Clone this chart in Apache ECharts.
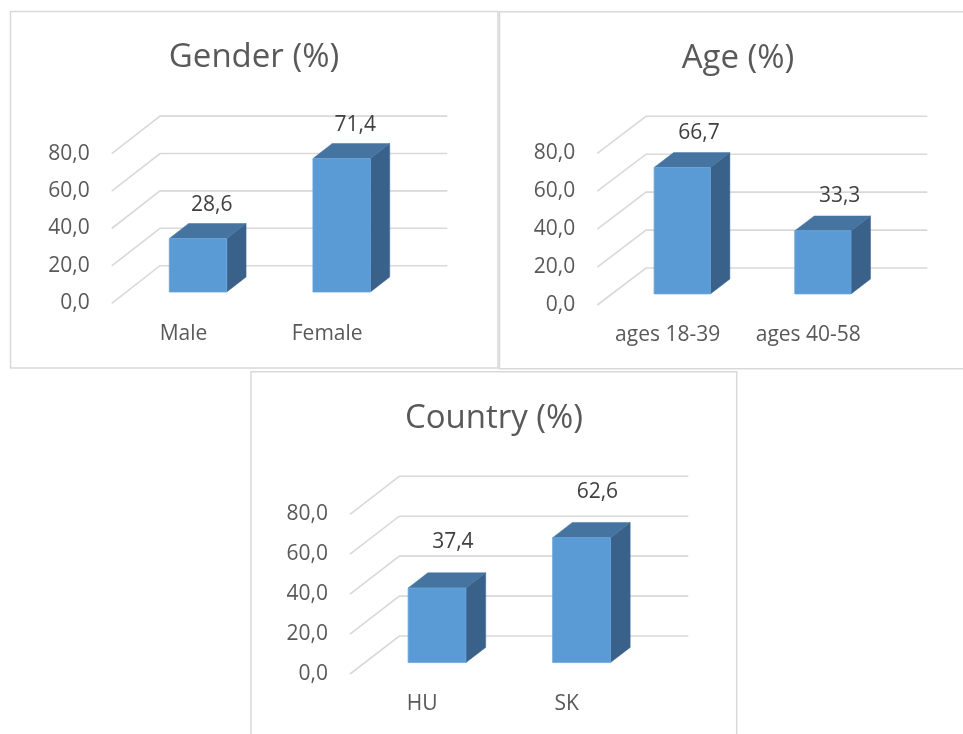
<!DOCTYPE html>
<html>
<head>
<meta charset="utf-8">
<title>Survey sample</title>
<script src="https://cdn.jsdelivr.net/npm/echarts@6/dist/echarts.min.js"></script>
<style>
  html, body { margin: 0; padding: 0; background: #ffffff; }
  #chart { width: 963px; height: 734px; }
</style>
</head>
<body>
<div id="chart"></div>
<script>
// Sample breakdown, in percent
const genderCats = ['Male', 'Female'];
const genderPct = [28.6, 71.4];
const ageCats = ['ages 18-39', 'ages 40-58'];
const agePct = [66.7, 33.3];
const countryCats = ['HU', 'SK'];
const countryPct = [37.4, 62.6];
const yTicks = [0, 20, 40, 60, 80];

const FONT = '"Open Sans", "Noto Sans", sans-serif';
const GRID_COLOR = '#d9d9d9';
const FRONT = '#5b9bd5';
const TOP = '#4674a0';
const SIDE = '#3a6189';

// Each panel: grid = front plane of the floor, depth = offset to the back wall
const panels = [
  {
    title: 'Gender (%)', cats: genderCats, vals: genderPct,
    box: [10.5, 11.5, 487.5, 356.5], titleX: 254, titleY: 41,
    grid: { left: 111.7, top: 153.7, width: 287.3, height: 149.6 },
    depth: [48.3, -37.6], labelLift: 18.5, labelShift: 4
  },
  {
    title: 'Age (%)', cats: ageCats, vals: agePct,
    box: [499.5, 11.7, 490, 357], titleX: 738, titleY: 41.6,
    grid: { left: 597.3, top: 153.3, width: 281.3, height: 151.7 },
    depth: [48.7, -37], labelLift: 20, labelShift: 7
  },
  {
    title: 'Country (%)', cats: countryCats, vals: countryPct,
    box: [251, 371.7, 485.7, 400], titleX: 494, titleY: 401.6,
    grid: { left: 350, top: 514.3, width: 289, height: 159.7 },
    depth: [49.3, -38], labelLift: 30.5, labelShift: 6
  }
];

const fmt = v => v.toFixed(1).replace('.', ',');

const option = {
  backgroundColor: '#ffffff',
  animation: false,
  title: [],
  grid: [],
  xAxis: [],
  yAxis: [],
  series: [],
  graphic: []
};

panels.forEach((p, i) => {
  const [dx, dy] = p.depth;

  option.graphic.push({
    type: 'rect',
    shape: { x: p.box[0], y: p.box[1], width: p.box[2], height: p.box[3] },
    style: { fill: 'none', stroke: '#d9d9d9', lineWidth: 1.5 },
    silent: true,
    z: -10
  });

  option.title.push({
    text: p.title,
    left: p.titleX,
    top: p.titleY,
    textAlign: 'center',
    padding: 0,
    textStyle: { fontFamily: FONT, fontSize: 33, fontWeight: 'normal', color: '#595959' }
  });

  option.grid.push(Object.assign({ containLabel: false }, p.grid));

  option.xAxis.push({
    type: 'category',
    gridIndex: i,
    data: p.cats,
    boundaryGap: true,
    axisLine: { show: false },
    axisTick: { show: false },
    splitLine: { show: false },
    axisLabel: { margin: 20, fontFamily: FONT, fontSize: 21, color: '#595959' }
  });

  option.yAxis.push({
    type: 'value',
    gridIndex: i,
    min: 0,
    max: 80,
    interval: 20,
    axisLine: { show: false },
    axisTick: { show: false },
    splitLine: { show: false },
    axisLabel: { margin: 22, fontFamily: FONT, fontSize: 21, color: '#595959', formatter: fmt }
  });

  // Floor/back-wall gridlines: diagonal from the front edge, then along the back wall
  option.series.push({
    type: 'custom',
    xAxisIndex: i,
    yAxisIndex: i,
    silent: true,
    z: 1,
    data: yTicks.map(t => [0, t]),
    renderItem: (params, api) => {
      const cs = params.coordSys;
      const y = api.coord([0, api.value(1)])[1];
      return {
        type: 'polyline',
        shape: { points: [[cs.x, y], [cs.x + dx, y + dy], [cs.x + cs.width + dx, y + dy]] },
        style: { stroke: GRID_COLOR, lineWidth: 1.6, fill: 'none' }
      };
    }
  });

  // 3D columns, 40% of the category width and 40% of the depth, centred in depth
  option.series.push({
    type: 'custom',
    xAxisIndex: i,
    yAxisIndex: i,
    z: 5,
    data: p.vals.map((v, k) => [k, v]),
    renderItem: (params, api) => {
      const cat = api.value(0);
      const val = api.value(1);
      const base = api.coord([cat, 0]);
      const top = api.coord([cat, val]);
      const bw = api.size([1, 0])[0] * 0.4;
      const d0 = 0.3, dd = 0.4;
      const x0 = base[0] - bw / 2 + d0 * dx;
      const x1 = x0 + bw;
      const yb = base[1] + d0 * dy;
      const yt = top[1] + d0 * dy;
      const ox = dd * dx, oy = dd * dy;
      return {
        type: 'group',
        children: [
          {
            type: 'polygon',
            shape: { points: [[x1, yt], [x1 + ox, yt + oy], [x1 + ox, yb + oy], [x1, yb]] },
            style: { fill: SIDE, stroke: SIDE, lineWidth: 0.5 }
          },
          {
            type: 'polygon',
            shape: { points: [[x0, yt], [x1, yt], [x1 + ox, yt + oy], [x0 + ox, yt + oy]] },
            style: { fill: TOP, stroke: TOP, lineWidth: 0.5 }
          },
          {
            type: 'rect',
            shape: { x: x0, y: yt, width: bw, height: yb - yt },
            style: { fill: FRONT, stroke: '#6aa5dc', lineWidth: 0.8 }
          },
          {
            type: 'text',
            style: {
              text: fmt(val),
              x: base[0] + 0.5 * dx + p.labelShift,
              y: yt + oy - p.labelLift,
              align: 'center',
              verticalAlign: 'middle',
              fontFamily: FONT,
              fontSize: 21,
              fill: '#404040'
            }
          }
        ]
      };
    }
  });
});

const chart = echarts.init(document.getElementById('chart'), null, { renderer: 'canvas' });
chart.setOption(option);
</script>
</body>
</html>
